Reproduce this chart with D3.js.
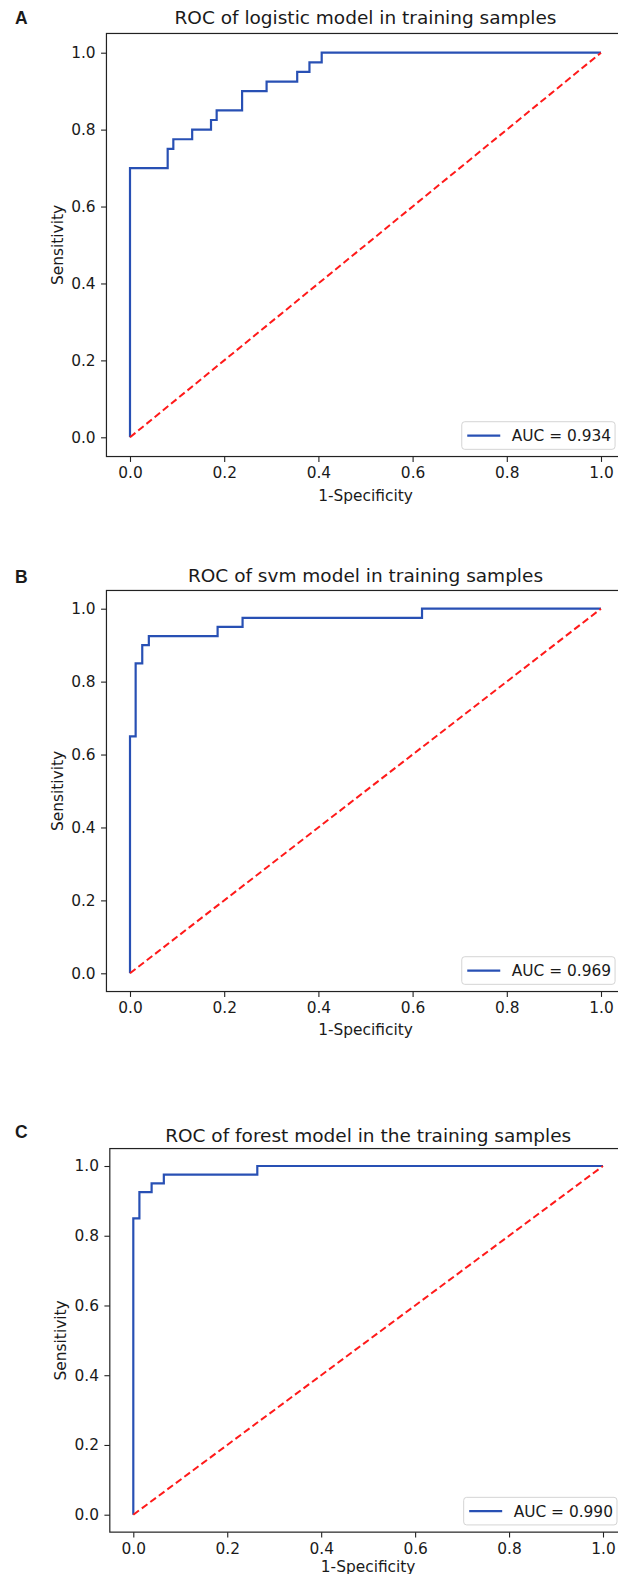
<!DOCTYPE html>
<html>
<head>
<meta charset="utf-8">
<script src="https://cdn.jsdelivr.net/npm/d3@7"></script>
<style>
  html, body { margin: 0; padding: 0; background: #fff; }
  svg { display: block; }
  text { font-family: "DejaVu Sans", sans-serif; fill: #1a1a1a; }
</style>
</head>
<body>
<svg id="chart" width="618" height="1574"></svg>
<script>
// ---- Data ----
const panelLetters = ["A", "B", "C"];
const panelTitles = [
  "ROC of logistic model in training samples",
  "ROC of svm model in training samples",
  "ROC of forest model in the training samples"
];
const aucLabels = ["AUC = 0.934", "AUC = 0.969", "AUC = 0.990"];
const tickValues = [0, 0.2, 0.4, 0.6, 0.8, 1.0];
const tickLabels = ["0.0", "0.2", "0.4", "0.6", "0.8", "1.0"];
const xAxisLabel = "1-Specificity";
const yAxisLabel = "Sensitivity";

// logistic model ROC
const logisticFpr = [0, 0, 0.080, 0.080, 0.092, 0.092, 0.132, 0.132, 0.172, 0.172, 0.184, 0.184, 0.238, 0.238, 0.290, 0.290, 0.355, 0.355, 0.381, 0.381, 0.407, 0.407, 1.0];
const logisticTpr = [0, 0.70, 0.70, 0.75, 0.75, 0.775, 0.775, 0.80, 0.80, 0.825, 0.825, 0.85, 0.85, 0.90, 0.90, 0.925, 0.925, 0.95, 0.95, 0.975, 0.975, 1.0, 1.0];
// svm model ROC
const svmFpr = [0, 0, 0.012, 0.012, 0.026, 0.026, 0.040, 0.040, 0.186, 0.186, 0.239, 0.239, 0.62, 0.62, 1.0];
const svmTpr = [0, 0.65, 0.65, 0.85, 0.85, 0.90, 0.90, 0.925, 0.925, 0.95, 0.95, 0.975, 0.975, 1.0, 1.0];
// random forest ROC
const forestFpr = [0, 0, 0.013, 0.013, 0.039, 0.039, 0.065, 0.065, 0.264, 0.264, 1.0];
const forestTpr = [0, 0.85, 0.85, 0.925, 0.925, 0.95, 0.95, 0.975, 0.975, 1.0, 1.0];
// chance line
const chanceX = [0, 1];
const chanceY = [0, 1];

const curves = [
  [logisticFpr, logisticTpr],
  [svmFpr, svmTpr],
  [forestFpr, forestTpr]
];

// ---- Layout (pixel positions of data 0 and 1 on each panel) ----
const layout = [
  { x0: 130,   x1: 601, y0: 437.3,  y1: 52.7,  titleY: 23.5,  letterY: 23.5,  xlabOff: 44 },
  { x0: 130,   x1: 601, y0: 973.3,  y1: 608.7, titleY: 581.7, letterY: 582.7, xlabOff: 43 },
  { x0: 133.3, x1: 603, y0: 1514.7, y1: 1166,  titleY: 1141.7, letterY: 1138.3, xlabOff: 40 }
];

const svg = d3.select("#chart");
const BLUE = "#2850b4";
const RED = "#ff1a1a";
const SPINE = "#222";
const FS = 15.4;

layout.forEach((L, i) => {
  // data domain [-0.05, 1.05] like matplotlib's default margins
  const x = d3.scaleLinear().domain([0, 1]).range([L.x0, L.x1]);
  const y = d3.scaleLinear().domain([0, 1]).range([L.y0, L.y1]);
  const left = x(-0.05), right = x(1.05), top = y(1.05), bottom = y(-0.05);
  const g = svg.append("g");

  const clipId = "clip" + i;
  g.append("clipPath").attr("id", clipId)
    .append("rect").attr("x", left).attr("y", top)
    .attr("width", right - left).attr("height", bottom - top);

  const line = d3.line().x(d => x(d[0])).y(d => y(d[1]));
  const [fpr, tpr] = curves[i];
  const pts = fpr.map((f, k) => [f, tpr[k]]);
  const chance = chanceX.map((c, k) => [c, chanceY[k]]);

  const plot = g.append("g").attr("clip-path", `url(#${clipId})`);
  plot.append("path").datum(pts)
    .attr("d", line).attr("fill", "none")
    .attr("stroke", BLUE).attr("stroke-width", 2.2)
    .attr("stroke-linejoin", "miter");
  plot.append("path").datum(chance)
    .attr("d", line).attr("fill", "none")
    .attr("stroke", RED).attr("stroke-width", 2)
    .attr("stroke-dasharray", "7,3.6");

  // spines
  g.append("rect").attr("x", left).attr("y", top)
    .attr("width", right - left).attr("height", bottom - top)
    .attr("fill", "none").attr("stroke", SPINE).attr("stroke-width", 1.2);

  // axes
  const fmt = (d) => tickLabels[tickValues.indexOf(d)];
  const xAxis = d3.axisBottom(x).tickValues(tickValues).tickFormat(fmt)
    .tickSize(5.4).tickPadding(5.6);
  const yAxis = d3.axisLeft(y).tickValues(tickValues).tickFormat(fmt)
    .tickSize(5.4).tickPadding(5.4);
  const gx = g.append("g").attr("transform", `translate(0,${bottom})`).call(xAxis);
  const gy = g.append("g").attr("transform", `translate(${left},0)`).call(yAxis);
  [gx, gy].forEach(a => {
    a.select(".domain").remove();
    a.selectAll(".tick line").attr("stroke", SPINE).attr("stroke-width", 1.1);
    a.selectAll(".tick text").attr("font-family", "DejaVu Sans")
      .attr("font-size", FS).attr("fill", "#1a1a1a");
  });

  // axis labels
  g.append("text").attr("x", (left + right) / 2).attr("y", bottom + L.xlabOff)
    .attr("text-anchor", "middle").attr("font-size", FS).text(xAxisLabel);
  g.append("text")
    .attr("transform", `translate(${left - 43.5},${(top + bottom) / 2}) rotate(-90)`)
    .attr("text-anchor", "middle").attr("font-size", FS).text(yAxisLabel);

  // title
  g.append("text").attr("x", (left + right) / 2).attr("y", L.titleY)
    .attr("text-anchor", "middle").attr("font-size", 18.5).text(panelTitles[i]);

  // panel letter
  g.append("text").attr("x", 15).attr("y", L.letterY)
    .attr("font-weight", "bold").attr("font-size", 17.5)
    .style("font-family", "'Liberation Sans', Arial, sans-serif")
    .text(panelLetters[i]);

  // legend
  const bw = 153.3, bh = 27.6;
  const bx = right - 9.5 - bw, by = bottom - 7.2 - bh;
  const lg = g.append("g");
  lg.append("rect").attr("x", bx).attr("y", by).attr("width", bw).attr("height", bh)
    .attr("rx", 3).attr("fill", "#fff").attr("fill-opacity", 0.85)
    .attr("stroke", "#d4d4d4").attr("stroke-width", 1);
  lg.append("line").attr("x1", bx + 5.5).attr("x2", bx + 38.5)
    .attr("y1", by + bh / 2).attr("y2", by + bh / 2)
    .attr("stroke", BLUE).attr("stroke-width", 2.2);
  lg.append("text").attr("x", bx + 50).attr("y", by + bh / 2)
    .attr("dy", "0.36em").attr("font-size", FS).text(aucLabels[i]);
});
</script>
</body>
</html>
